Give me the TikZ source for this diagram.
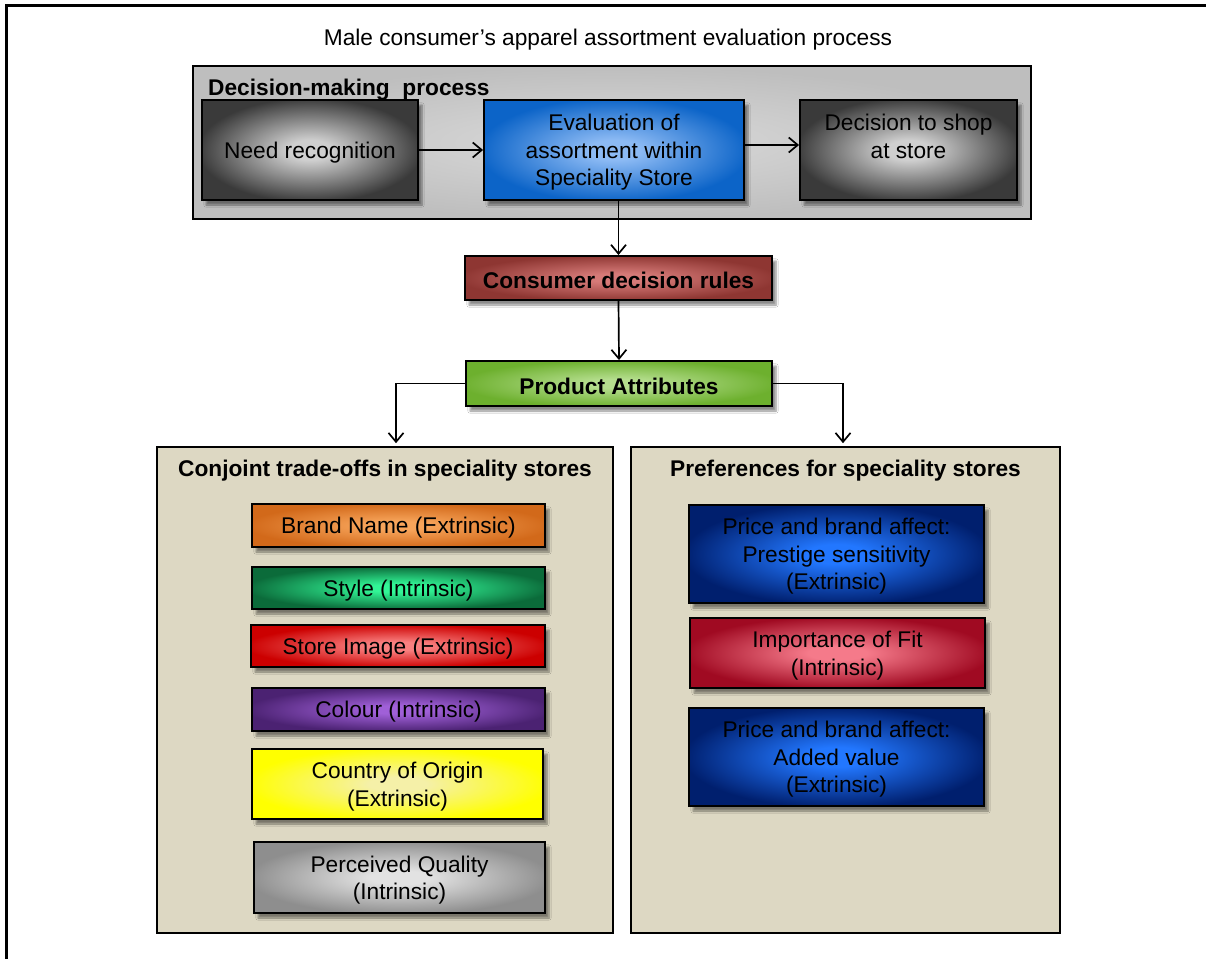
\documentclass[tikz,border=0pt]{standalone}
\usepackage{fontspec}
\setmainfont{Liberation Sans}
\usetikzlibrary{arrows.meta,shadows.blur}
\definecolor{panelc}{HTML}{DDD8C3}
\definecolor{dmpin}{HTML}{DADADA}
\definecolor{dmpout}{HTML}{BEBEBE}
\definecolor{gin}{HTML}{CFCFCF}
\definecolor{gout}{HTML}{3A3A3A}
\definecolor{evin}{HTML}{8CBAF4}
\definecolor{evout}{HTML}{0C64C8}
\definecolor{crin}{HTML}{D67A78}
\definecolor{crout}{HTML}{8E3632}
\definecolor{pain}{HTML}{B5DE8E}
\definecolor{paout}{HTML}{6DB02E}
\definecolor{bnin}{HTML}{F7A45A}
\definecolor{bnout}{HTML}{D2691A}
\definecolor{stin}{HTML}{32F596}
\definecolor{stout}{HTML}{0B6B3A}
\definecolor{siin}{HTML}{F98080}
\definecolor{siout}{HTML}{CC0000}
\definecolor{coin}{HTML}{A060D8}
\definecolor{coout}{HTML}{4B2272}
\definecolor{cooin}{HTML}{F5F0A8}
\definecolor{cooout}{HTML}{FFFF00}
\definecolor{pqin}{HTML}{E2E2E2}
\definecolor{pqout}{HTML}{8E8E8E}
\definecolor{blin}{HTML}{2277FF}
\definecolor{blout}{HTML}{001F6E}
\definecolor{fitin}{HTML}{F57A8A}
\definecolor{fitout}{HTML}{A00A22}
\makeatletter
\pgfdeclareradialshading[tikz@radial@outer,tikz@radial@inner]{softrad}{\pgfpoint{0bp}{0bp}}{%
  color(0bp)=(tikz@radial@inner); color(5bp)=(tikz@radial@inner);
  color(26bp)=(tikz@radial@outer); color(50bp)=(tikz@radial@outer)}
\makeatother
\tikzset{
  txt/.style={font=\fontsize{22.7pt}{27.5pt}\selectfont, align=center, inner sep=0pt},
  btxt/.style={font=\fontsize{22.7pt}{27.5pt}\selectfont\bfseries, align=center, inner sep=0pt},
  box/.style n args={2}{draw=black, line width=1.9pt, inner color=#1, outer color=#2, shading=softrad,
     blur shadow={shadow xshift=4pt, shadow yshift=-5pt, shadow blur steps=6, shadow opacity=45},
     inner sep=0pt},
  panel/.style={draw=black, line width=1.6pt, fill=panelc, inner sep=0pt},
  arr/.style={draw=black, line width=1.7pt, -{Straight Barb[length=9pt,width=15pt,line width=1.7pt]}}
}
% \tbox{name}{inner}{outer}{text style}{position}{width}{height}{text}
\newcommand\tbox[8]{%
  \node[box={#2}{#3}, minimum width=#6, minimum height=#7] (#1) at #5 {};
  \node[#4] (#1-t) at ([yshift=-2.5pt]#1.center) {#8};}
\begin{document}
\begin{tikzpicture}[x=1pt,y=-1pt]
\useasboundingbox (0,0) rectangle (1206,958);
\fill[white] (0,0) rectangle (1206,958);
% outer frame (top and left)
\draw[line width=3.5pt, line cap=rect] (6.5,958) -- (6.5,5.5) -- (1206,5.5);

\node[txt] (title) at (608,40) {Male consumer’s apparel assortment evaluation process};

% decision-making process container
\node[draw=black, line width=1.6pt, shading=radial, inner color=dmpin, outer color=dmpout,
  minimum width=838pt, minimum height=153pt, inner sep=0pt] (dmp) at (612,142.5) {};
\node[btxt, anchor=west] (dmpt) at (208,90) {Decision-making\ \ process};

\tbox{nr}{gin}{gout}{txt}{(310,150)}{216pt}{100pt}{Need recognition}
\tbox{ev}{evin}{evout}{txt}{(614,150)}{260pt}{100pt}{Evaluation of\\assortment within\\Speciality Store}
\node[box={gin}{gout}, minimum width=217pt, minimum height=100pt] (ds) at (908.5,150) {};
\node[txt] (ds-t) at (ds.center) {Decision to shop\\at store\\\mbox{}};

\draw[arr] (nr.east) -- (ev.west);
\draw[arr] ([yshift=5pt]ev.east) -- ([yshift=5pt]ds.west);

% decision rules & attributes
\tbox{cr}{crin}{crout}{btxt}{(618.5,278)}{307pt}{44pt}{Consumer decision rules}
\tbox{pa}{pain}{paout}{btxt}{(619,383.5)}{306pt}{45pt}{Product Attributes}

\draw[arr] (cr.north |- ev.south) -- (cr.north);
\draw[arr] (cr.south) -- (pa.north);

% panels
\node[panel, minimum width=456pt, minimum height=486pt] (lp) at (385,690) {};
\node[panel, minimum width=429pt, minimum height=486pt] (rp) at (845.5,690) {};
\node[btxt] (lpt) at (385,471) {Conjoint trade-offs in speciality stores};
\node[btxt] (rpt) at (845.5,471) {Preferences for speciality stores};

\draw[arr] (pa.west) -| ([xshift=11pt,yshift=3pt]lp.north);
\draw[arr] (pa.east) -| ([xshift=-2.5pt,yshift=3pt]rp.north);

% left items
\tbox{bn}{bnin}{bnout}{txt}{(398.5,525.5)}{293pt}{43pt}{Brand Name (Extrinsic)}
\tbox{st}{stin}{stout}{txt}{(398.5,588)}{293pt}{42pt}{Style (Intrinsic)}
\tbox{si}{siin}{siout}{txt}{(398,646)}{294pt}{42pt}{Store Image (Extrinsic)}
\tbox{co}{coin}{coout}{txt}{(398.5,709.5)}{293pt}{43pt}{Colour (Intrinsic)}
\tbox{coo}{cooin}{cooout}{txt}{(397.5,784)}{291pt}{70pt}{Country of Origin\\(Extrinsic)}
\tbox{pq}{pqin}{pqout}{txt}{(399.5,877.5)}{291pt}{71pt}{Perceived Quality\\(Intrinsic)}

% right items
\tbox{ps}{blin}{blout}{txt}{(836.5,554)}{295pt}{98pt}{Price and brand affect:\\Prestige sensitivity\\(Extrinsic)}
\tbox{fit}{fitin}{fitout}{txt}{(837.5,653)}{295pt}{70pt}{Importance of Fit\\(Intrinsic)}
\tbox{av}{blin}{blout}{txt}{(836.5,757)}{295pt}{98pt}{Price and brand affect:\\Added value\\(Extrinsic)}
\end{tikzpicture}
\end{document}
